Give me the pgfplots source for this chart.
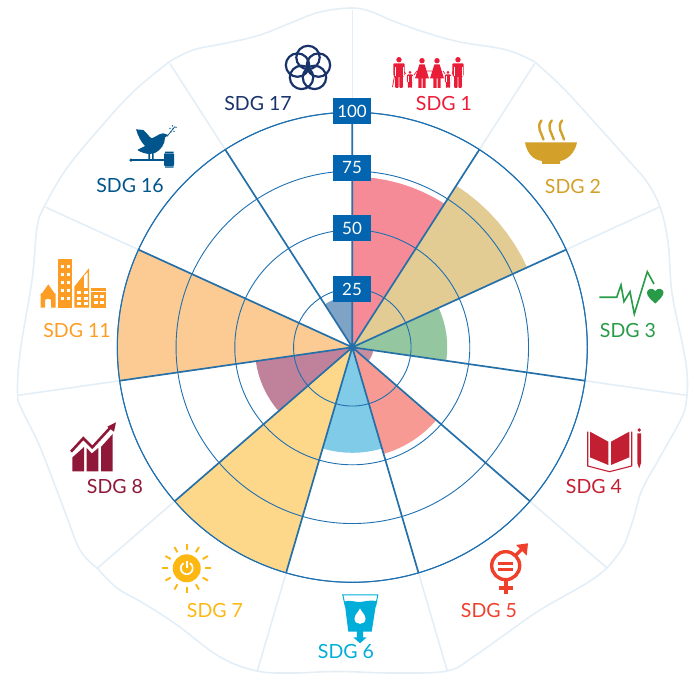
\documentclass[border=0pt]{standalone}
\usepackage{pgfplots}
\pgfplotsset{compat=1.18}
\usepgfplotslibrary{polar}
\usepackage{fontspec}
\setmainfont{Lato}

\definecolor{ringblue}{HTML}{1F70B0}
\definecolor{spokeblue}{HTML}{2570A8}
\definecolor{lightline}{HTML}{E3EEF7}
\definecolor{boxblue}{HTML}{0365B0}
\definecolor{sone}{HTML}{E91D38}
\definecolor{stwo}{HTML}{D3A029}
\definecolor{sthree}{HTML}{279B48}
\definecolor{sfour}{HTML}{C31F33}
\definecolor{sfive}{HTML}{EF402B}
\definecolor{ssix}{HTML}{00AED9}
\definecolor{sseven}{HTML}{FDB713}
\definecolor{seight}{HTML}{8F1838}
\definecolor{seleven}{HTML}{FD9D24}
\definecolor{ssixteen}{HTML}{00558C}
\definecolor{sseventeen}{HTML}{19336A}
\definecolor{wone}{HTML}{F58B97}
\definecolor{wtwo}{HTML}{E3CC94}
\definecolor{wthree}{HTML}{94C6A0}
\definecolor{wfour}{HTML}{C88D9E}
\definecolor{wfive}{HTML}{F79A93}
\definecolor{wsix}{HTML}{80CBE8}
\definecolor{wseven}{HTML}{FDD88B}
\definecolor{weight}{HTML}{C0829A}
\definecolor{weleven}{HTML}{FBCB93}
\definecolor{wseventeen}{HTML}{7FA3C4}

\newcommand{\sdglabel}[4]{\node[text=#1,inner sep=0pt,font=\fontsize{19.6}{21}\selectfont] at (#2,#3) {#4};}
\newcommand{\ticklab}[2]{\node[fill=boxblue,text=white,inner sep=0pt,minimum width=38bp,minimum height=25.5bp,font=\fontsize{17}{19}\selectfont] at (352,#1) {#2};}
% man / woman for the family icon, top of head at y=0
\newcommand{\man}[3]{\begin{scope}[shift={(#1,#2)},scale=#3]
  \fill (0,2.7) circle (2.7);
  \fill[rounded corners=1pt] (-5.6,19) -- (-5.6,6.3) -- (5.6,6.3) -- (5.6,19) -- (3.9,19) -- (3.9,31) -- (0.4,31) -- (0.4,19) -- (-0.4,19) -- (-0.4,31) -- (-3.9,31) -- (-3.9,19) -- cycle;
  \draw[white,line width=0.5bp] (-4,10) -- (-4,19.2) (4,10) -- (4,19.2);
\end{scope}}
\newcommand{\woman}[3]{\begin{scope}[shift={(#1,#2)},scale=#3]
  \fill (0,2.7) circle (2.7);
  \fill (-2.6,6.3) -- (2.6,6.3) -- (7,20.5) -- (3.7,20.5) -- (3.7,30) -- (0.5,30) -- (0.5,20.5) -- (-0.5,20.5) -- (-0.5,30) -- (-3.7,30) -- (-3.7,20.5) -- (-7,20.5) -- cycle;
\end{scope}}

\begin{document}
\begin{tikzpicture}
\path[use as bounding box] (0,0) rectangle (693bp,674bp);
\begin{polaraxis}[
  at={(352.3bp,326.7bp)}, anchor=origin,
  scale only axis, width=470bp, height=470bp,
  ymin=0, ymax=100, clip=false,
  xtick={90,57.27,24.55,351.82,319.09,286.36,253.64,220.91,188.18,155.45,122.73},
  ytick={25,50,75,100},
  xticklabels={}, yticklabels={},
  major tick length=0pt,
  grid=major,
  x grid style={spokeblue,line width=1.7bp},
  y grid style={ringblue,line width=0.9bp},
  y axis line style={draw=none},
  x axis line style={ringblue,line width=1.1bp},
  axis on top,
]
% spokes beyond the outer ring
\pgfplotsinvokeforeach{90,57.27,24.55,351.82,319.09,286.36,253.64,220.91,188.18,155.45,122.73}{
  \draw[lightline,line width=1.6bp] (axis cs:#1,100) -- (axis cs:#1,143.6);
}
% SDG 1
\addplot[draw=none,fill=wone] coordinates {(90,0) (90,72.6) (85.91,72.6) (81.82,72.6) (77.73,72.6) (73.64,72.6) (69.55,72.6) (65.45,72.6) (61.36,72.6) (57.27,72.6) (57.27,0)};
% SDG 2
\addplot[draw=none,fill=wtwo] coordinates {(57.27,0) (57.27,81.8) (53.18,81.8) (49.09,81.8) (45,81.8) (40.91,81.8) (36.82,81.8) (32.73,81.8) (28.64,81.8) (24.55,81.8) (24.55,0)};
% SDG 3
\addplot[draw=none,fill=wthree] coordinates {(24.55,0) (24.55,40.4) (20.45,40.4) (16.36,40.4) (12.27,40.4) (8.18,40.4) (4.09,40.4) (0,40.4) (-4.09,40.4) (-8.18,40.4) (-8.18,0)};
% SDG 4
\addplot[draw=none,fill=wfour] coordinates {(-8.18,0) (-8.18,9) (-12.27,9) (-16.36,9) (-20.45,9) (-24.55,9) (-28.64,9) (-32.73,9) (-36.82,9) (-40.91,9) (-40.91,0)};
% SDG 5
\addplot[draw=none,fill=wfive] coordinates {(-40.91,0) (-40.91,47.3) (-45,47.3) (-49.09,47.3) (-53.18,47.3) (-57.27,47.3) (-61.36,47.3) (-65.45,47.3) (-69.55,47.3) (-73.64,47.3) (-73.64,0)};
% SDG 6
\addplot[draw=none,fill=wsix] coordinates {(-73.64,0) (-73.64,44.9) (-77.73,44.9) (-81.82,44.9) (-85.91,44.9) (-90,44.9) (-94.09,44.9) (-98.18,44.9) (-102.27,44.9) (-106.36,44.9) (-106.36,0)};
% SDG 7
\addplot[draw=none,fill=wseven] coordinates {(-106.36,0) (-106.36,100) (-110.45,100) (-114.55,100) (-118.64,100) (-122.73,100) (-126.82,100) (-130.91,100) (-135,100) (-139.09,100) (-139.09,0)};
% SDG 8
\addplot[draw=none,fill=weight] coordinates {(-139.09,0) (-139.09,41.5) (-143.18,41.5) (-147.27,41.5) (-151.36,41.5) (-155.45,41.5) (-159.55,41.5) (-163.64,41.5) (-167.73,41.5) (-171.82,41.5) (-171.82,0)};
% SDG 11
\addplot[draw=none,fill=weleven] coordinates {(-171.82,0) (-171.82,100) (-175.91,100) (-180,100) (-184.09,100) (-188.18,100) (-192.27,100) (-196.36,100) (-200.45,100) (-204.55,100) (-204.55,0)};
% SDG 17 (SDG 16 is zero)
\addplot[draw=none,fill=wseventeen] coordinates {(122.73,0) (122.73,21.7) (118.64,21.7) (114.55,21.7) (110.45,21.7) (106.36,21.7) (102.27,21.7) (98.18,21.7) (94.09,21.7) (90,21.7) (90,0)};
\end{polaraxis}

\begin{scope}[x=1bp,y=-1bp,shift={(0bp,674bp)}]
% wavy outline
\draw[lightline,line width=1.6bp] plot[smooth,tension=0.6] coordinates {(169,62) (193,50) (227,43) (260,35) (293,22) (320,12) (352,8) (372,12) (393,21) (427,33) (460,42) (507,50) (535,62)};
\draw[lightline,line width=1.6bp] plot[smooth,tension=0.6] coordinates {(535,62) (563,88) (597,125) (630,162) (647,182) (660,207) (668,242) (672,293) (683,347) (687,373) (687,395) (682,417) (660,457) (642,490) (633,520) (623,547) (607,568)};
\draw[lightline,line width=1.6bp] plot[smooth,tension=0.6] coordinates {(607,568) (587,583) (540,610) (507,633) (473,657) (447,671) (393,673) (337,671.5) (293,673) (257,671) (220,657) (177,625) (143,603) (117,588) (97,568)};
\draw[lightline,line width=1.6bp] plot[smooth,tension=0.6] coordinates {(97,568) (80,550) (65,512) (40,447) (22,410) (17.6,395) (20,353) (32,280) (37,228) (44,207) (67,168) (100,128) (133,92) (169,62)};

% scale boxes
\ticklab{111}{100}
\ticklab{168}{75}
\ticklab{228}{50}
\ticklab{289}{25}

% labels
\sdglabel{sone}{444}{104}{SDG 1}
\sdglabel{stwo}{573}{187}{SDG 2}
\sdglabel{sthree}{628}{331}{SDG 3}
\sdglabel{sfour}{594}{487}{SDG 4}
\sdglabel{sfive}{489}{611}{SDG 5}
\sdglabel{ssix}{346}{652}{SDG 6}
\sdglabel{sseven}{215}{611}{SDG 7}
\sdglabel{seight}{115}{487}{SDG 8}
\sdglabel{seleven}{77}{331}{SDG 11}
\sdglabel{ssixteen}{130}{186}{SDG 16}
\sdglabel{sseventeen}{258}{104}{SDG 17}

% SDG 1 family
\begin{scope}[fill=sone]
\man{399}{57}{1}
\man{458}{57}{1}
\woman{422}{58}{1}
\woman{437}{58}{1}
\man{410}{71}{0.55}
\man{448}{71}{0.55}
\end{scope}
\draw[sone,line width=0.8bp] (392.5,87) -- (394.5,76);
\draw[sone,line width=0.7bp] (404,72) -- (406,74) (414,75) -- (417,71) (427,71) -- (432,71) (443,71) -- (445,74) (452,74) -- (453,71);

% SDG 2 bowl
\fill[stwo] (525,142.5) -- (577,142.5) .. controls (575,153) and (567,160) .. (560,161) -- (560,164) -- (542,164) -- (542,161) .. controls (533,160) and (527,153) .. cycle;
\foreach \dx in {0,10.3,20.6}
  \draw[stwo,line width=2.4bp,line cap=round] (541.5+\dx,120.5) .. controls (536+\dx,127) and (541.5+\dx,133) .. (543.5+\dx,139.5);

% SDG 3 pulse and heart
\draw[sthree,line width=1.6bp,line join=miter] (599.3,297.3) -- (616.7,297.3) -- (621,285) -- (624,301.7) -- (630,291.7) -- (634.3,314) -- (647.3,271.7) -- (654,284);
\fill[sthree] (655.3,303.5) .. controls (650,299) and (647,296) .. (647,292.5) .. controls (647,288.5) and (653,287.5) .. (655.3,291) .. controls (657.5,287.5) and (663.5,288.5) .. (663.5,292.5) .. controls (663.5,296) and (660,299) .. cycle;

% SDG 4 book and pencil
\fill[sfour] (590,431.7) -- (608.3,441.7) -- (608.3,465) -- (590,457.3) -- cycle;
\fill[sfour] (611,441.7) -- (629.3,431.7) -- (629.3,457.3) -- (611,465) -- cycle;
\draw[sfour,line width=1.1bp] (587.7,431.7) -- (587.7,466) -- (609.5,471.7) -- (631.7,466) -- (631.7,431.7);
\fill[sfour] (637.3,433.5) -- (641,433.5) -- (641,463) -- (639.2,468.5) -- (637.3,463) -- cycle;
\fill[sfour] (639.2,430) circle (1.9);

% SDG 5 symbol
\draw[sfive,line width=3.4bp] (505.7,565.7) circle (14);
\fill[sfive] (498.3,562.4) rectangle (513.3,565);
\fill[sfive] (498.3,568.2) rectangle (513.3,570.8);
\fill[sfive] (503.8,581) rectangle (507.8,594.5);
\fill[sfive] (499,585.7) rectangle (513,590.5);
\draw[sfive,line width=3.4bp] (515.5,555.5) -- (524,547);
\fill[sfive] (516,545) -- (528,543.3) -- (526.7,555.7) -- cycle;

% SDG 6 glass
\draw[ssix,line width=1bp] (345.5,607) -- (342.8,595) -- (377.8,595) -- (375.5,607);
\fill[ssix] (344.5,601.5) .. controls (352,599.5) and (356,603) .. (362,601.8) .. controls (368,600.5) and (372,600.5) .. (376.5,601) -- (371.7,631.7) -- (348.3,631.7) -- cycle;
\fill[white] (360,608.5) .. controls (358,612.5) and (354.5,615) .. (354.5,618.8) .. controls (354.5,625.5) and (365.5,625.5) .. (365.5,618.8) .. controls (365.5,615) and (362,612.5) .. cycle;
\fill[ssix] (356.8,631) -- (356.8,637.3) -- (353.3,637.3) -- (360,643.3) -- (366.7,637.3) -- (363.2,637.3) -- (363.2,631) -- cycle;

% SDG 7 sun
\fill[sseven] (186.7,568.3) circle (14);
\foreach \a in {0,30,...,330}
  \draw[sseven,line width=1.9bp] (186.7,568.3) ++(\a:18.5) -- ++(\a:6);
\draw[white,line width=1.7bp] (190,563.2) arc[start angle=-57,end angle=237,radius=6];
\draw[white,line width=1.7bp] (186.7,561) -- (186.7,568);

% SDG 8 bars and arrow
\fill[seight] (72.3,457.5) -- (84,447) -- (84,471.3) -- (72.3,471.3) -- cycle;
\fill[seight] (86.7,448) -- (91.8,453.5) -- (98.3,448) -- (98.3,471.3) -- (86.7,471.3) -- cycle;
\fill[seight] (101,447) -- (112.7,434) -- (112.7,471.3) -- (101,471.3) -- cycle;
\draw[seight,line width=2.6bp] (71,451.7) -- (83.3,438.3) -- (92.3,447.3) -- (110,428);
\fill[seight] (116,422.3) -- (107.3,426.7) -- (114,431.7) -- cycle;

% SDG 11 buildings
\fill[seleven] (40.7,307.7) -- (40.7,293.3) -- (42,293.3) -- (48.3,284.3) -- (54.5,293.3) -- (55.7,293.3) -- (55.7,307.7) -- (51,307.7) -- (51,300) .. controls (50,298.5) and (46,298.5) .. (45,300) -- (45,307.7) -- cycle;
\fill[seleven] (57.7,259) rectangle (72,307.7);
\foreach \yy in {265,273,281,289,297}
  \foreach \xx in {61,67}
    \fill[white] (\xx,\yy) rectangle ++(3,3);
\fill[seleven] (74.3,307.7) -- (74.3,286.7) -- (89,268.3) -- (89,307.7) -- cycle;
\foreach \yy in {291,297,302.5}
  \foreach \xx in {77,84}
    \fill[white] (\xx,\yy) rectangle ++(4,3);
\fill[white] (84,276) -- (87.5,272.5) -- (87.5,288) -- (84,288) -- cycle;
\fill[seleven] (91,288.3) rectangle (105.7,307.7);
\fill[white] (91,290.6) rectangle (105.7,291.4);
\foreach \yy in {295,301}
  \foreach \xx in {93.5,100}
    \fill[white] (\xx,\yy) rectangle ++(4,3);

% SDG 16 dove and gavel
\fill[ssixteen] (136,129.3) -- (143.3,130) .. controls (147,133) and (149,137) .. (151.7,138.3) .. controls (156,137) and (159,133.5) .. (163.3,133.3) -- (168.3,135) -- (165,137.5) .. controls (165,144) and (161,150) .. (155,153) -- (150,154) .. controls (146,154) and (141,152.5) .. (137.3,150) -- (145,146) .. controls (141,142) and (138,136) .. cycle;
\fill[ssixteen] (148.3,153) rectangle (150,160) (152,153) rectangle (153.7,160);
\fill[ssixteen] (132,158.8) rectangle (164,161.5);
\fill[ssixteen] (131,160.2) circle (1.8);
\fill[ssixteen,rounded corners=0.6pt] (164,153.5) rectangle (174,165.8);
\fill[ssixteen] (165,151.7) rectangle (173.5,153) (165,166.3) rectangle (173.5,167.7);
\draw[ssixteen,line width=0.7bp] (167,136.5) -- (175,126.5);
\foreach \px/\py in {170/128.5,173/129,171/132,174/131.5,176/127.5,172.5/126}
  \fill[ssixteen] (\px,\py) circle (0.75);

% SDG 17 rings
\foreach \a in {90,162,234,306,18}
  \draw[sseventeen,line width=2.2bp] (308,68.5) ++(\a:-11) circle (11.7);
\end{scope}
\end{tikzpicture}
\end{document}
